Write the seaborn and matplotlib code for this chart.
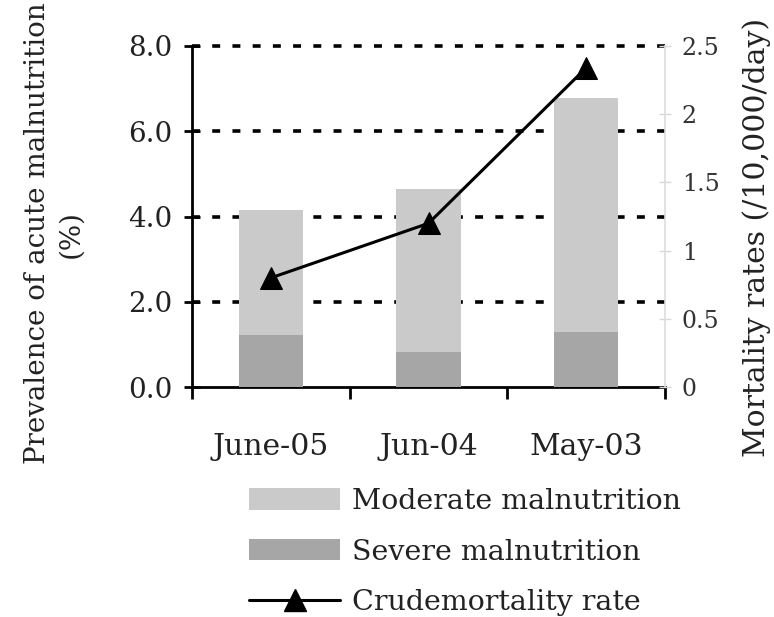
import numpy as np
import pandas as pd
import matplotlib
matplotlib.use("Agg")
import matplotlib.pyplot as plt
import seaborn as sns
from matplotlib.patches import Patch
from matplotlib.lines import Line2D

# ---- data ----
categories = ["June-05", "Jun-04", "May-03"]
severe = [1.22, 0.83, 1.30]
moderate = [2.93, 3.81, 5.48]
mortality = [0.80, 1.20, 2.34]
left_ticks = [0, 2, 4, 6, 8]
left_tick_labels = ["0.0", "2.0", "4.0", "6.0", "8.0"]
right_ticks = [0, 0.5, 1, 1.5, 2, 2.5]
right_tick_labels = ["0", "0.5", "1", "1.5", "2", "2.5"]
legend_labels = ["Moderate malnutrition", "Severe malnutrition", "Crudemortality rate"]
left_label = "Prevalence of acute malnutrition\n(%)"
right_label = "Mortality rates (/10,000/day)"

sns.set_theme(style="white")
plt.rcParams['font.family'] = ['DejaVu Serif']
TXT = "#222222"
C_MOD = "#cacaca"
C_SEV = "#a6a6a6"

df = pd.DataFrame({"cat": categories,
                   "total": np.array(severe) + np.array(moderate),
                   "severe": severe})

W, H = 774, 617
L, R, T, B = 192, 665, 46, 387
fig = plt.figure(figsize=(W/100, H/100), dpi=100)
ax = fig.add_axes([L/W, 1-B/H, (R-L)/W, (B-T)/H])

# gridlines (behind bars)
ax.set_axisbelow(True)
for t in left_ticks[1:]:
    ax.axhline(t, color="black", lw=2.6, linestyle=(0, (2.2, 3.4)), zorder=0, clip_on=False)

sns.barplot(data=df, x="cat", y="total", color=C_MOD, width=0.41, ax=ax,
            saturation=1, edgecolor="none", linewidth=0, zorder=2)
sns.barplot(data=df, x="cat", y="severe", color=C_SEV, width=0.41, ax=ax,
            saturation=1, edgecolor="none", linewidth=0, zorder=3)

ax.set_xlim(-0.5, 2.5)
ax.set_ylim(0, 8)
ax.set_yticks(left_ticks, left_tick_labels)
ax.set_xticks(range(len(categories)), categories)
ax.set_xticks([-0.5, 0.5, 1.5, 2.5], minor=True)
ax.tick_params(axis="x", which="major", length=0, pad=33, labelsize=21.5, labelcolor=TXT)
ax.tick_params(axis="x", which="minor", length=8.5, width=2, direction="out", color="black", bottom=True)
ax.tick_params(axis="y", which="major", length=12, width=2, direction="inout", pad=8,
               labelsize=20, labelcolor=TXT, left=True, color="black")
ax.set_xlabel("")
for s in ["left", "bottom"]:
    ax.spines[s].set_color("black")
    ax.spines[s].set_linewidth(2)
ax.spines["top"].set_visible(False)
ax.spines["right"].set_visible(False)
ax.set_ylabel(left_label, fontsize=20, color=TXT, linespacing=1.3, ha="center", va="center")
ax.yaxis.set_label_coords((54 - L) / (R - L), 0.45)

# secondary axis
ax2 = ax.twinx()
sns.lineplot(x=np.arange(len(categories)), y=mortality, ax=ax2, color="black",
             marker="^", markersize=16, linewidth=2.2, markeredgecolor="black", zorder=5)
ax2.set_ylim(0, 2.5)
ax2.set_yticks(right_ticks, right_tick_labels)
ax2.tick_params(axis="y", length=8, width=1, direction="inout", color="#d8d8d8",
                labelsize=17, labelcolor="#333333", pad=8, right=True)
for s in ["left", "bottom", "top"]:
    ax2.spines[s].set_visible(False)
ax2.spines["right"].set_color("#dddddd")
ax2.spines["right"].set_linewidth(1.2)
ax2.set_ylabel(right_label, fontsize=21.5, color=TXT, rotation=90, ha="center", va="center")
ax2.yaxis.set_label_coords((757 - L) / (R - L), 0.44)

# legend
handles = [Patch(facecolor=C_MOD, edgecolor="none"),
           Patch(facecolor=C_SEV, edgecolor="none"),
           Line2D([0], [0], color="black", lw=2.2, marker="^", markersize=16)]
fig.legend(handles, legend_labels, loc="upper left",
           bbox_to_anchor=(249/W, 1-488/H), frameon=False, fontsize=20.5,
           handlelength=3.2, handleheight=0.78, handletextpad=0.4,
           labelspacing=0.83, borderpad=0, borderaxespad=0, labelcolor=TXT)

fig.savefig("out.png", dpi=100, facecolor="white")
